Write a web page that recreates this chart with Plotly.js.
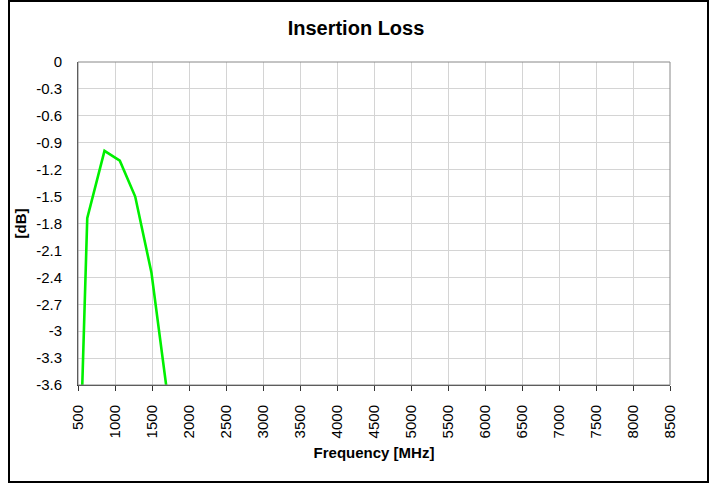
<!DOCTYPE html>
<html>
<head>
<meta charset="utf-8">
<script src="https://cdn.plot.ly/plotly-3.0.1.min.js"></script>
<style>html,body{margin:0;padding:0;background:#fff}#chart{width:712px;height:485px}</style>
</head>
<body>
<div id="chart"></div>
<script>
const frequencyMHz = [410, 625, 858, 1065, 1273, 1493, 1710, 1930];
const insertionLossDb = [-7.7, -1.74, -0.99, -1.10, -1.50, -2.35, -3.72, -6.0];
const xTickVals = [500,1000,1500,2000,2500,3000,3500,4000,4500,5000,5500,6000,6500,7000,7500,8000,8500];
const xTickText = xTickVals.map(v => String(v));
const yTickVals = [0,-0.3,-0.6,-0.9,-1.2,-1.5,-1.8,-2.1,-2.4,-2.7,-3,-3.3,-3.6];
const yTickText = ["0","-0.3","-0.6","-0.9","-1.2","-1.5","-1.8","-2.1","-2.4","-2.7","-3","-3.3","-3.6"];

const font = "Liberation Sans, Arial, sans-serif";
const L = 78, R = 42, T = 62, B = 100, W = 712, H = 485;
const pw = W - L - R, ph = H - T - B;
const px = v => (v - L) / pw;
const py = v => (H - B - v) / ph;

Plotly.newPlot('chart', [{
  x: frequencyMHz, y: insertionLossDb, type: 'scatter', mode: 'lines',
  line: {color: '#00f000', width: 2.6}, cliponaxis: true, hoverinfo: 'skip'
}], {
  width: W, height: H,
  margin: {l: L, r: R, t: T, b: B, pad: 0},
  paper_bgcolor: '#fff', plot_bgcolor: '#fff',
  showlegend: false,
  title: {text: '<b>Insertion Loss</b>', font: {family: font, size: 20, color: '#000'}, x: 0.5, xanchor: 'center', y: 0.943, yanchor: 'middle'},
  xaxis: {
    range: [500, 8500], tickmode: 'array', tickvals: xTickVals, ticktext: xTickText,
    tickangle: -90, ticks: 'outside', ticklen: 5, tickcolor: '#333', tickwidth: 1,
    ticklabelstandoff: 8,
    tickfont: {family: font, size: 15, color: '#000'},
    showgrid: true, gridcolor: '#d4d4d4', gridwidth: 1,
    showline: true, linecolor: '#333', linewidth: 1, zeroline: false,
    title: {text: '<b>Frequency [MHz]</b>', font: {family: font, size: 15, color: '#000'}, standoff: 10}
  },
  yaxis: {
    range: [-3.6, 0], tickmode: 'array', tickvals: yTickVals, ticktext: yTickText,
    ticks: '', ticklabelstandoff: 12,
    tickfont: {family: font, size: 15, color: '#000'},
    showgrid: true, gridcolor: '#d4d4d4', gridwidth: 1,
    showline: true, linecolor: '#333', linewidth: 1, zeroline: false,
    title: {text: '<b>[dB]</b>', font: {family: font, size: 15, color: '#000'}, standoff: 5}
  },
  shapes: [
    {type: 'rect', xref: 'paper', yref: 'paper', x0: 0, x1: 1, y0: 0, y1: 1, line: {color: '#888', width: 1}, layer: 'above'},
    {type: 'rect', xref: 'paper', yref: 'paper', x0: px(9), x1: px(708), y0: py(482), y1: py(1), line: {color: '#000', width: 2}}
  ]
}, {displayModeBar: false, staticPlot: true});
</script>
</body>
</html>
